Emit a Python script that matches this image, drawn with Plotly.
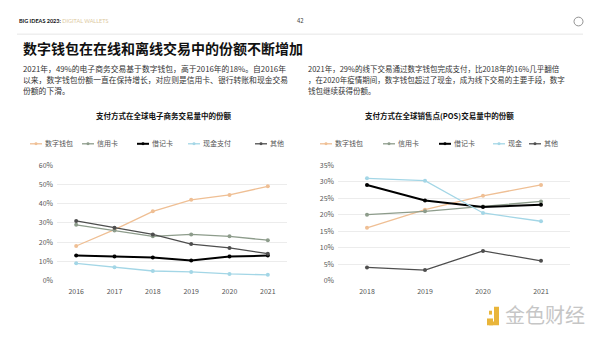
import plotly.graph_objects as go

W, H = 600, 338

# ---- data ----
years_ecom = ["2016", "2017", "2018", "2019", "2020", "2021"]
ecom_wallet = [18, 26.5, 36, 42, 44.5, 49]
ecom_credit = [29, 26, 23, 24, 23, 21]
ecom_debit = [13, 12.5, 12, 10.5, 12.5, 13]
ecom_cash = [9, 7, 5, 4.5, 3.5, 3]
ecom_other = [31, 27.5, 24, 19, 17, 14]

years_pos = ["2018", "2019", "2020", "2021"]
pos_wallet = [16, 21.5, 25.7, 29]
pos_credit = [20, 21, 22.5, 24]
pos_debit = [29, 24.3, 22.3, 23]
pos_cash = [31, 30.3, 20.5, 18]
pos_other = [4, 3.2, 9, 6]

names_ecom = ["数字钱包", "信用卡", "借记卡", "现金支付", "其他"]
names_pos = ["数字钱包", "信用卡", "借记卡", "现金", "其他"]
colors = ["#efbf94", "#8d9c8b", "#000000", "#a3d6e6", "#4e4e4e"]
widths = [1.3, 1.3, 2.0, 1.3, 1.3]

CJK = "Noto Sans CJK SC"

def px_x(x):
    return x / W

def px_y(y):
    return 1 - y / H

fig = go.Figure()

for name, vals, c, w in zip(names_ecom,
                            [ecom_wallet, ecom_credit, ecom_debit, ecom_cash, ecom_other],
                            colors, widths):
    fig.add_trace(go.Scatter(x=years_ecom, y=vals, name=name, mode="lines+markers",
                             line=dict(color=c, width=w), marker=dict(color=c, size=4),
                             xaxis="x", yaxis="y", showlegend=False, hoverinfo="skip"))

for name, vals, c, w in zip(names_pos,
                            [pos_wallet, pos_credit, pos_debit, pos_cash, pos_other],
                            colors, widths):
    fig.add_trace(go.Scatter(x=years_pos, y=vals, name=name, mode="lines+markers",
                             line=dict(color=c, width=w), marker=dict(color=c, size=4),
                             xaxis="x2", yaxis="y2", showlegend=False, hoverinfo="skip"))

ydom = [px_y(283), px_y(164)]
tickfont = dict(family=CJK, size=7, color="#555555")

fig.update_layout(
    width=W, height=H,
    margin=dict(l=0, r=0, t=0, b=0),
    paper_bgcolor="white", plot_bgcolor="white",
    font=dict(family=CJK),
    showlegend=False,
    xaxis=dict(domain=[px_x(57), px_x(287)], type="category", range=[-0.5, 5.5],
               showgrid=False, zeroline=False, showline=False, tickfont=tickfont,
               ticks="", ticklabelstandoff=5),
    yaxis=dict(domain=ydom, range=[0, 60], dtick=10, ticksuffix="%",
               gridcolor="#ececec", gridwidth=1, zeroline=False, showline=False,
               tickfont=tickfont, ticks="", ticklabelstandoff=3),
    xaxis2=dict(domain=[px_x(338), px_x(570)], type="category", range=[-0.5, 3.5],
                showgrid=False, zeroline=False, showline=False, tickfont=tickfont,
                ticks="", anchor="y2", ticklabelstandoff=5),
    yaxis2=dict(domain=ydom, range=[0, 35], dtick=5, ticksuffix="%",
                gridcolor="#ececec", gridwidth=1, zeroline=False, showline=False,
                tickfont=tickfont, ticks="", anchor="x2", ticklabelstandoff=3),
)

ann = []
shapes = []

def text(x, y, s, size, color="#222", bold=False, xanchor="left", family=CJK):
    if bold:
        s = "<b>" + s + "</b>"
    ann.append(dict(x=px_x(x), y=px_y(y), xref="paper", yref="paper", text=s,
                    showarrow=False, xanchor=xanchor, yanchor="middle",
                    font=dict(family=family, size=size, color=color)))

# header
text(17, 15, "<b>BIG IDEAS 2023:</b> <span style='color:#dcc9a0'>DIGITAL WALLETS</span>", 5.5,
     color="#111", family="Lato")
text(300, 15, "42", 6, color="#444", xanchor="center")
# title
text(21, 43, "数字钱包在在线和离线交易中的份额不断增加", 14, color="#111", bold=True)
# paragraphs
left_par = ["2021年，49%的电子商务交易基于数字钱包，高于2016年的18%。自2016年",
            "以来，数字钱包份额一直在保持增长，对应则是信用卡、银行转账和现金交易",
            "份额的下滑。"]
right_par = ["2021年，29%的线下交易通过数字钱包完成支付，比2018年的16%几乎翻倍",
             "，在2020年疫情期间，数字钱包超过了现金，成为线下交易的主要手段，数字",
             "钱包继续获得份额。"]
for i, s in enumerate(left_par):
    text(21, 64 + i * 11.3, s, 7.8, color="#333")
for i, s in enumerate(right_par):
    text(306, 64 + i * 11.3, s, 7.5, color="#333")
# chart titles
text(163, 113, "支付方式在全球电子商务交易量中的份额", 7.5, color="#111", bold=True, xanchor="center")
text(440, 113, "支付方式在全球销售点(POS)交易量中的份额", 7.5, color="#111", bold=True, xanchor="center")

# manual legends (line + dot + label)
leg_y = 142
left_leg_x = [30, 82, 137, 188, 255]
right_leg_x = [320, 383, 439, 493, 529]
for xs, names in [(left_leg_x, names_ecom), (right_leg_x, names_pos)]:
    for x0, name, c, w in zip(xs, names, colors, widths):
        shapes.append(dict(type="line", xref="paper", yref="paper",
                           x0=px_x(x0), x1=px_x(x0 + 12), y0=px_y(leg_y), y1=px_y(leg_y),
                           line=dict(color=c, width=w)))
        shapes.append(dict(type="circle", xref="paper", yref="paper",
                           x0=px_x(x0 + 4.5), x1=px_x(x0 + 7.5),
                           y0=px_y(leg_y + 1.5), y1=px_y(leg_y - 1.5),
                           fillcolor=c, line=dict(width=0)))
        text(x0 + 13, leg_y - 1, name, 7, color="#555")

# watermark
text(503, 318, "金色财经", 20, color="#c6c6c6")

fig.update_layout(annotations=ann)

shapes += [
    dict(type="line", xref="paper", yref="paper", x0=px_x(17), x1=px_x(583),
         y0=px_y(29), y1=px_y(29), line=dict(color="#e6e6e6", width=1)),
    dict(type="circle", xref="paper", yref="paper", x0=px_x(574), x1=px_x(583),
         y0=px_y(20.5), y1=px_y(11.5), line=dict(color="#777", width=0.8)),
    # watermark logo
    dict(type="rect", xref="paper", yref="paper", x0=px_x(487), x1=px_x(493),
         y0=px_y(329), y1=px_y(322), fillcolor="#e9b53a", line=dict(width=0)),
    dict(type="path", xref="paper", yref="paper",
         path=f"M {px_x(489)} {px_y(329)} L {px_x(499)} {px_y(329)} L {px_x(499)} {px_y(310)} "
              f"L {px_x(494)} {px_y(310)} L {px_x(494)} {px_y(325)} L {px_x(489)} {px_y(325)} Z",
         fillcolor="#e9b53a", line=dict(width=0)),
    dict(type="rect", xref="paper", yref="paper", x0=px_x(489), x1=px_x(492),
         y0=px_y(318), y1=px_y(314), fillcolor="#e9b53a", line=dict(width=0)),
]
fig.update_layout(shapes=shapes)

fig.write_html("out.html")
